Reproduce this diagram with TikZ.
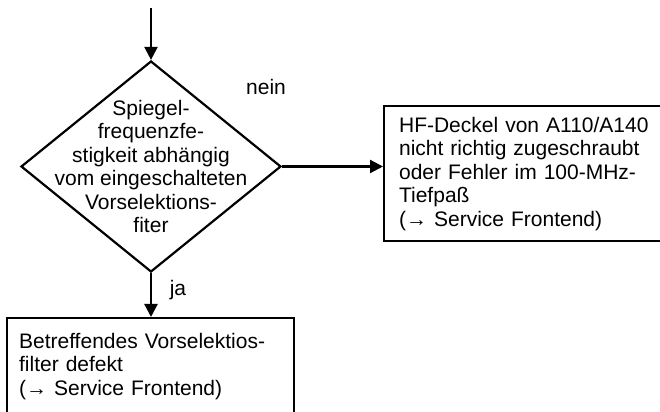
\documentclass[tikz,border=0pt]{standalone}
\usepackage{fontspec}
\setmainfont{Liberation Sans}
\usetikzlibrary{shapes.geometric,arrows.meta}

\begin{document}
\begin{tikzpicture}[x=1pt, y=1pt, >={Triangle[length=6.5pt,width=6.5pt]},
  line width=1.1pt,
  every node/.style={font=\fontsize{10.5}{11.75}\selectfont},
  decision/.style={draw, diamond, minimum width=130pt, minimum height=105.5pt, inner sep=0pt},
  fixbox/.style={draw, rectangle, align=left, anchor=north west},
]

\useasboundingbox (0,0) rectangle (330,206);
\clip (0,0) rectangle (330,206);

\coordinate (entry) at (75.5,202);
\node[decision] (chk) at (75.5,122.75) {};
\node[align=center] (chktxt) at (chk.center) {Spiegel-\\frequenzfe-\\stigkeit abhängig\\vom eingeschalteten\\Vorselektions-\\fiter};

\node[fixbox, inner xsep=7.5pt, text width=135pt, minimum height=67.5pt] (nobox) at (191.5,153.5)
  {HF-Deckel von A110/A140\\nicht richtig zugeschraubt\\oder Fehler im 100-MHz-\\Tiefpaß\\(→ Service Frontend)};
\node[fixbox, inner xsep=6pt, inner ysep=7.5pt, text width=131.5pt, text depth=60pt] (yesbox) at (3,47.5)
  {Betreffendes Vorselektios-\\filter defekt\\(→ Service Frontend)};

\node (neinlbl) at (133,162.5) {nein};
\node (jalbl) at (89,61) {ja};

\draw[->] (entry) -- (chk.north);
\draw[->] (chk.east) -- (chk.east -| nobox.west);
\draw[->] (chk.south) -- (chk.south |- yesbox.north);

\end{tikzpicture}
\end{document}
